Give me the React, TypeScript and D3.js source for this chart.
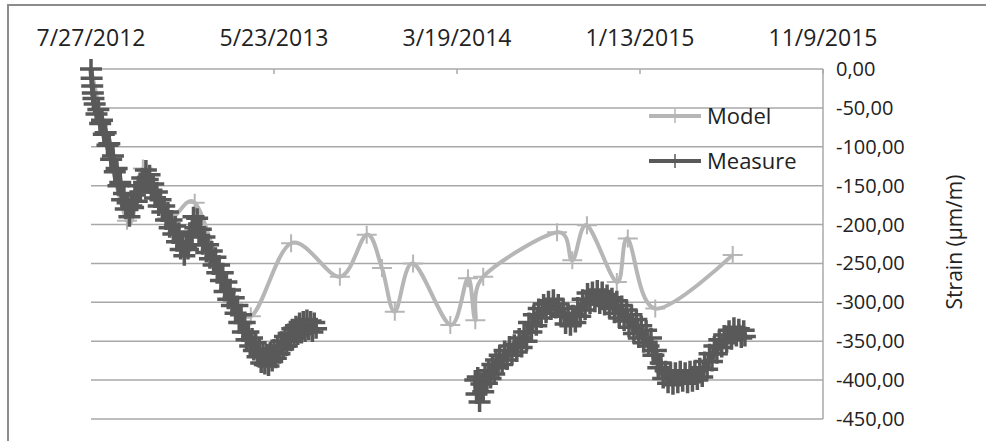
import React from "react";
import * as d3 from "d3";

// ---- data ----
const startDate = "7/27/2012";
const xTickLabels = ["7/27/2012", "5/23/2013", "3/19/2014", "1/13/2015", "11/9/2015"];
const yTicks = [0, -50, -100, -150, -200, -250, -300, -350, -400, -450];

// Model: [days since start, strain]
const modelPoints: [number, number][] = [
  [0, 0], [59, -195], [85, -128], [125, -192], [170, -172], [215, -262], [262, -318], [328, -224],
  [408, -267], [452, -213], [477, -256], [498, -312], [528, -250], [589, -329], [618, -269], [630, -323],
  [643, -267], [764, -210], [789, -246], [813, -201], [862, -274], [880, -218], [925, -308], [1052, -239],
];

// Measure, first campaign: [days since start, strain]
const measureSeg1: [number, number][] = [
  [0, 0], [1, -12], [2, -22], [3, -31], [4, -38], [6, -45], [9, -58], [12, -52], [15, -70], [18, -66],
  [21, -84], [24, -82], [27, -98], [30, -96], [33, -116], [36, -112], [39, -132], [42, -128], [45, -150],
  [48, -146], [51, -168], [54, -160], [57, -180], [60, -172], [63, -190], [66, -176], [69, -178], [72, -162],
  [75, -170], [78, -150], [81, -158], [84, -140], [87, -146], [90, -130], [93, -142], [96, -136], [99, -156],
  [102, -148], [105, -166], [108, -158], [111, -176], [114, -168], [117, -184], [120, -176], [123, -194],
  [126, -184], [129, -204], [132, -194], [135, -212], [138, -202], [141, -222], [144, -210], [147, -232],
  [150, -222], [153, -240], [156, -228], [159, -232], [162, -210], [165, -214], [168, -190], [171, -204],
  [174, -192], [177, -214], [180, -206], [183, -226], [186, -216], [189, -236], [192, -226], [195, -244],
  [198, -234], [201, -252], [204, -242], [207, -262], [210, -252], [213, -272], [216, -262], [219, -286],
  [222, -274], [225, -296], [228, -284], [231, -304], [234, -294], [237, -314], [240, -304], [243, -326],
  [246, -316], [249, -338], [252, -326], [255, -348], [258, -338], [261, -356], [264, -346], [267, -362],
  [270, -352], [273, -370], [276, -360], [279, -378], [282, -366], [285, -380], [288, -366], [291, -382],
  [294, -364], [297, -376], [300, -360], [303, -372], [306, -356], [309, -366], [312, -350], [315, -360],
  [318, -344], [321, -356], [324, -340], [327, -350], [330, -334], [333, -346], [336, -330], [339, -342],
  [342, -326], [345, -340], [348, -324], [351, -338], [354, -322], [357, -336], [360, -324], [363, -338],
  [366, -326], [369, -334],
];

// Measure, second campaign
const measureSeg2: [number, number][] = [
  [630, -400], [632, -418], [634, -396], [637, -428], [640, -405], [643, -415], [646, -392], [649, -404],
  [652, -388], [655, -398], [658, -380], [661, -392], [664, -374], [667, -384], [670, -368], [674, -380],
  [678, -362], [682, -374], [686, -356], [690, -368], [694, -354], [698, -364], [702, -346], [706, -358],
  [710, -338], [714, -350], [718, -326], [722, -338], [726, -316], [730, -330], [734, -308], [738, -320],
  [742, -302], [746, -314], [750, -298], [754, -310], [758, -296], [762, -308], [766, -302], [770, -318],
  [774, -308], [778, -328], [782, -314], [786, -330], [790, -316], [794, -326], [798, -306], [802, -318],
  [806, -296], [810, -310], [814, -288], [818, -302], [822, -286], [826, -300], [830, -284], [834, -302],
  [838, -286], [842, -304], [846, -290], [850, -308], [854, -294], [858, -314], [862, -298], [866, -320],
  [870, -304], [874, -324], [878, -310], [882, -332], [886, -316], [890, -340], [894, -322], [898, -346],
  [902, -330], [906, -352], [910, -336], [914, -356], [918, -346], [922, -368], [926, -362], [930, -384],
  [934, -378], [938, -398], [942, -388], [946, -404], [950, -390], [954, -406], [958, -390], [962, -404],
  [966, -388], [970, -402], [974, -390], [978, -404], [982, -388], [986, -402], [990, -388], [994, -400],
  [998, -384], [1002, -396], [1006, -376], [1010, -386], [1014, -366], [1018, -376], [1022, -356],
  [1026, -366], [1030, -348], [1034, -358], [1038, -342], [1042, -352], [1046, -336], [1050, -348],
  [1054, -332], [1058, -344], [1062, -334], [1066, -346], [1070, -336], [1072, -344],
];

const seriesNames = ["Model", "Measure"];
const seriesColors = ["#b6b6b6", "#595959"];

// ---- layout ----
const W = 986;
const H = 441;
const plotLeft = 91;
const plotRight = 823;
const plotTop = 69;
const plotBottom = 419;
const font = "'Open Sans', sans-serif";

const parseMDY = d3.timeParse("%m/%d/%Y");

type P = { date: Date; v: number };

export default function App() {
  const start = parseMDY(startDate) as Date;
  const tickDates = xTickLabels.map((s) => parseMDY(s) as Date);
  const x = d3
    .scaleTime()
    .domain([tickDates[0], tickDates[tickDates.length - 1]])
    .range([plotLeft, plotRight]);
  const y = d3.scaleLinear().domain([-450, 0]).range([plotBottom, plotTop]);
  const toP = ([d, v]: [number, number]): P => ({ date: d3.timeDay.offset(start, d), v });

  const model = modelPoints.map(toP);
  const seg1 = measureSeg1.map(toP);
  const seg2 = measureSeg2.map(toP);
  const measure = seg1.concat(seg2);

  const smooth = d3
    .line<P>()
    .x((p) => x(p.date))
    .y((p) => y(p.v))
    .curve(d3.curveCardinal.tension(0));
  const straight = d3
    .line<P>()
    .x((p) => x(p.date))
    .y((p) => y(p.v));

  const fmt = (v: number) => d3.format(".2f")(v).replace(".", ",").replace("−", "-");
  const plus = (cx: number, cy: number, hw: number, hh: number) =>
    `M${cx - hw},${cy}h${hw * 2}M${cx},${cy - hh}v${hh * 2}`;

  return (
    <svg
      width={W}
      height={H}
      style={{ position: "absolute", left: 0, top: 0, background: "#fff" }}
      fontFamily={font}
    >
      <rect x={0} y={0} width={W} height={H} fill="#fff" />
      <path d={`M8,${H + 2}V5H${W + 2}`} fill="none" stroke="#8c8c8c" strokeWidth={2} />

      {yTicks.map((t) => (
        <line key={t} x1={plotLeft} x2={plotRight} y1={y(t)} y2={y(t)} stroke="#a8a8a8" strokeWidth={1.5} />
      ))}
      <line x1={plotRight} x2={plotRight} y1={plotTop} y2={plotBottom} stroke="#a8a8a8" strokeWidth={1.5} />
      {tickDates.map((d, i) => (
        <line key={i} x1={x(d)} x2={x(d)} y1={plotTop} y2={plotTop + 5} stroke="#a8a8a8" strokeWidth={1.5} />
      ))}

      {yTicks.map((t) => (
        <text key={t} x={836} y={y(t)} dy="0.35em" fontSize={20} fill="#222">
          {fmt(t)}
        </text>
      ))}
      {tickDates.map((d, i) => (
        <text key={i} x={x(d)} y={38} dy="0.35em" textAnchor="middle" fontSize={23} fill="#222">
          {xTickLabels[i]}
        </text>
      ))}
      <text transform={`translate(955,242) rotate(-90)`} textAnchor="middle" dy="0.35em" fontSize={21} fill="#222">
        Strain (µm/m)
      </text>

      <path d={smooth(model) || ""} fill="none" stroke={seriesColors[0]} strokeWidth={4} />
      {model.map((p, i) => (
        <path key={i} d={plus(x(p.date), y(p.v), 10, 9)} stroke={seriesColors[0]} strokeWidth={2} fill="none" />
      ))}

      <path d={straight(seg1) || ""} fill="none" stroke={seriesColors[1]} strokeWidth={5} />
      <path d={straight(seg2) || ""} fill="none" stroke={seriesColors[1]} strokeWidth={5} />
      {measure.map((p, i) => (
        <path key={i} d={plus(x(p.date), y(p.v), 11, 10)} stroke={seriesColors[1]} strokeWidth={3.5} fill="none" />
      ))}

      {seriesNames.map((name, i) => {
        const ly = 116 + i * 45;
        return (
          <g key={name}>
            <line x1={649} x2={701} y1={ly} y2={ly} stroke={seriesColors[i]} strokeWidth={4} />
            <line x1={675} x2={675} y1={ly - 7} y2={ly + 7} stroke={seriesColors[i]} strokeWidth={1.5} />
            <text x={707} y={ly} dy="0.35em" fontSize={22} fill="#222">
              {name}
            </text>
          </g>
        );
      })}
    </svg>
  );
}
